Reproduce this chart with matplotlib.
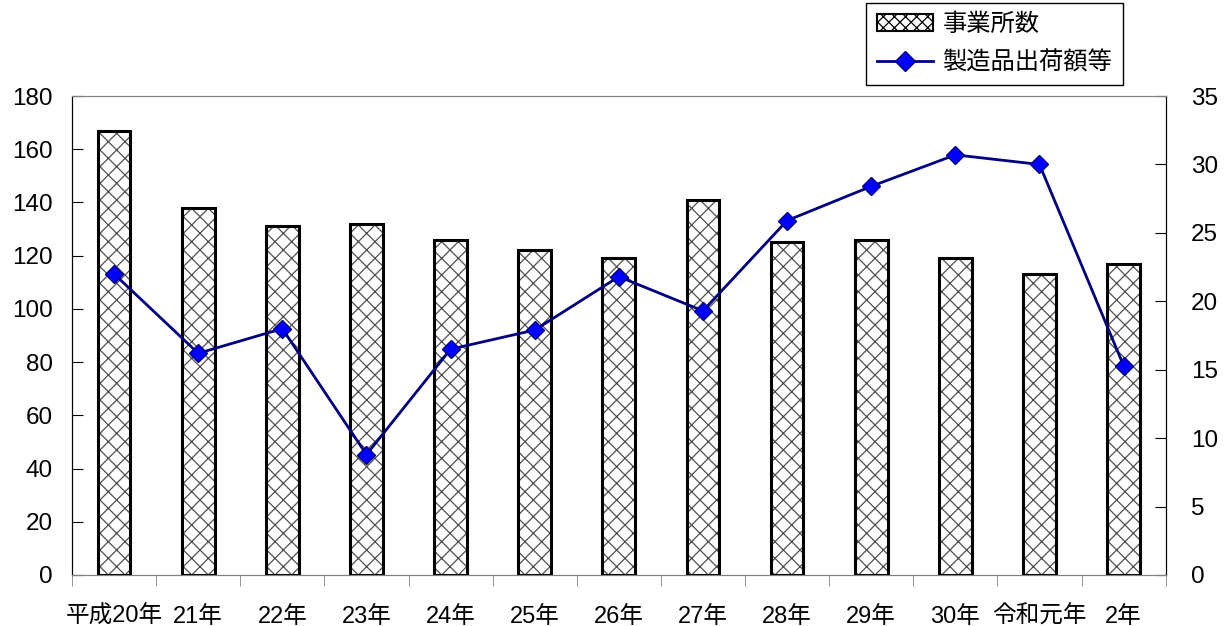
import matplotlib
matplotlib.use("Agg")
import matplotlib.pyplot as plt
import numpy as np
from matplotlib.patches import Patch
from matplotlib.lines import Line2D

plt.rcParams["font.family"] = ["Liberation Sans", "Noto Sans CJK JP"]
plt.rcParams["hatch.linewidth"] = 0.9

# ── データ ────────────────────────────────────────────
years = ["平成20年", "21年", "22年", "23年", "24年", "25年", "26年",
         "27年", "28年", "29年", "30年", "令和元年", "2年"]
establishments = [167, 138, 131, 132, 126, 122, 119, 141, 125, 126, 119, 113, 117]
shipments = [22.0, 16.2, 18.0, 8.8, 16.5, 17.9, 21.8, 19.3, 25.9, 28.4, 30.7, 30.0, 15.3]

NAVY = "#000080"
BLUE = "#0000ff"
GRAY = "#808080"

fig = plt.figure(figsize=(12.27, 6.26), dpi=100)
ax = fig.add_axes([0.0587, 0.0815, 0.8913, 0.7651])
x = np.arange(len(years))

# 棒（ハッチ + 黒枠）
ax.bar(x, establishments, width=0.39, color="white", edgecolor="#505050",
       hatch="xx", linewidth=0, zorder=2)
ax.bar(x, establishments, width=0.39, fill=False, edgecolor="black",
       linewidth=2.2, zorder=3)
ax.set_xlim(-0.5, len(years) - 0.5)
ax.set_ylim(0, 180)
ax.set_yticks(range(0, 181, 20))
ax.set_xticks(x)
ax.set_xticklabels(years, fontsize=17)
ax.set_xticks(np.arange(-0.5, len(years), 1), minor=True)
ax.tick_params(axis="x", which="major", length=0, pad=22)
ax.tick_params(axis="x", which="minor", length=8, direction="out", color=GRAY)
ax.tick_params(axis="y", direction="in", length=8, labelsize=17.5, pad=14)

ax2 = ax.twinx()
ax2.plot(x, shipments, color=NAVY, linewidth=2, marker="D", markersize=9,
         markerfacecolor=BLUE, markeredgecolor=NAVY, markeredgewidth=1)
ax2.set_ylim(0, 35)
ax2.set_yticks(range(0, 36, 5))
ax2.tick_params(axis="y", direction="in", length=8, labelsize=17.5, pad=18)

for a in (ax, ax2):
    a.spines["top"].set_color(GRAY)
    a.spines["bottom"].set_color(GRAY)
    a.spines["left"].set_color("black")
    a.spines["right"].set_color("black")

handles = [
    Patch(facecolor="white", edgecolor="black", hatch="xxx", linewidth=1.5),
    Line2D([0], [0], color=NAVY, linewidth=2, marker="D", markersize=10,
           markerfacecolor=BLUE, markeredgecolor=NAVY),
]
leg = fig.legend(handles, ["事業所数", "製造品出荷額等"], loc="upper left",
                 bbox_to_anchor=(866 / 1227, 1 - 3 / 626), fontsize=17.5,
                 fancybox=False, edgecolor="black", framealpha=1,
                 borderpad=0.45, labelspacing=0.6, handlelength=2.3,
                 handletextpad=0.4, borderaxespad=0)
leg.get_frame().set_linewidth(1)

fig.savefig("out.png", dpi=100, facecolor="white")
